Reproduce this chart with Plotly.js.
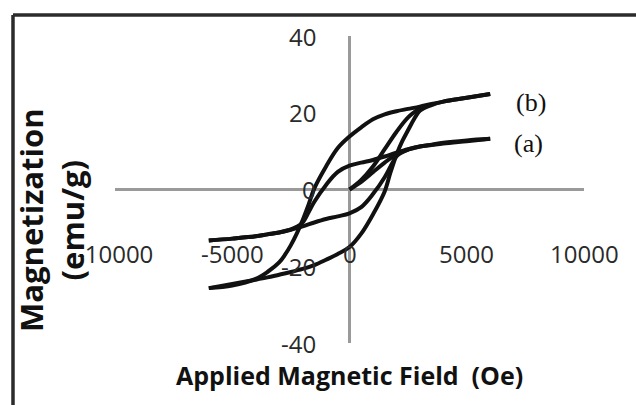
<!DOCTYPE html>
<html>
<head>
<meta charset="utf-8">
<script src="https://cdn.plot.ly/plotly-3.0.1.min.js"></script>
<style>
  html, body { margin: 0; padding: 0; background: #fff; }
  #chart { width: 636px; height: 405px; }
</style>
</head>
<body>
<div id="chart"></div>
<script>
// ---- data ----
const fieldDesc = [6000, 5000, 4000, 3500, 3000, 2500, 2000, 1500, 1000, 500, 0, -500, -1000, -1500, -1750, -2000, -2250, -2500, -2750, -3000, -3500, -4000, -5000, -6000];
const fieldAsc  = [-6000, -5000, -4000, -3500, -3000, -2500, -2000, -1500, -1000, -500, 0, 500, 1000, 1500, 1750, 2000, 2250, 2500, 2750, 3000, 3500, 4000, 5000, 6000];

// sample (b): larger loop
const magBDesc = [24.9, 23.9, 22.9, 22.3, 21.6, 21.0, 20.4, 19.6, 18.3, 16.2, 13.8, 10.8, 6.0, 0.3, -4.0, -8.0, -11.5, -14.5, -17.0, -19.0, -21.5, -23.3, -25.0, -25.7];
const magBAsc  = [-25.7, -24.6, -23.5, -22.9, -22.2, -21.5, -20.7, -19.7, -18.3, -16.8, -15.0, -11.5, -6.5, -0.5, 4.5, 9.0, 12.6, 15.5, 18.3, 20.5, 22.0, 22.9, 23.9, 24.9];
const fieldBInit = [0, 500, 1000, 1500, 2000, 2500, 3000];
const magBInit   = [0, 2.5, 6.0, 10.5, 15.0, 18.8, 21.2];

// sample (a): smaller loop
const magADesc = [13.2, 12.6, 12.0, 11.6, 11.2, 10.5, 9.6, 8.6, 7.7, 7.0, 6.2, 4.6, 1.2, -3.2, -6.0, -8.6, -9.7, -10.4, -10.8, -11.2, -11.7, -12.2, -12.8, -13.3];
const magAAsc  = [-13.3, -12.8, -12.2, -11.7, -11.2, -10.5, -9.6, -8.6, -7.7, -7.0, -6.2, -4.6, -1.2, 3.2, 6.0, 8.6, 9.7, 10.4, 10.8, 11.2, 11.7, 12.2, 12.8, 13.2];
const fieldAInit = [0, 500, 1000, 1500, 2000, 2500];
const magAInit   = [0, 2.0, 4.5, 7.0, 9.2, 10.4];

// axis ticks
const xTicks = [-10000, -5000, 0, 5000, 10000];
const xTickText = ["-10000", "-5000", "0", "5000", "10000"];
const yTicks = [40, 20, 0, -20, -40];
const yTickText = ["40", "20", "0", "-20", "-40"];

const seriesLabels = ["(b)", "(a)"];
const xTitle = "Applied Magnetic Field&nbsp;&nbsp;(Oe)";
const yTitle = "Magnetization<br>(emu/g)";

// ---- drawing ----
const lineStyle = { color: "#111", width: 4, shape: "spline", smoothing: 1 };
function tr(x, y) {
  return { x: x, y: y, type: "scatter", mode: "lines", line: lineStyle, hoverinfo: "skip", showlegend: false };
}
const traces = [
  tr(fieldDesc, magBDesc), tr(fieldAsc, magBAsc), tr(fieldBInit, magBInit),
  tr(fieldDesc, magADesc), tr(fieldAsc, magAAsc), tr(fieldAInit, magAInit)
];

const tickFont = { family: "Open Sans, sans-serif", size: 24, color: "#2a2a2a" };
const annotations = [];
xTicks.forEach((v, i) => annotations.push({
  x: v, y: -16.6, xref: "x", yref: "y", text: xTickText[i], showarrow: false,
  xanchor: "center", yanchor: "middle", font: tickFont
}));
yTicks.forEach((v, i) => annotations.push({
  x: -1330, y: v, xref: "x", yref: "y", text: yTickText[i], showarrow: false,
  xanchor: "right", yanchor: "middle", font: tickFont
}));
const labelPos = [[7750, 22.6], [7650, 11.9]];
seriesLabels.forEach((t, i) => annotations.push({
  x: labelPos[i][0], y: labelPos[i][1], xref: "x", yref: "y", text: t, showarrow: false,
  xanchor: "center", yanchor: "middle",
  font: { family: "Liberation Serif, serif", size: 26, color: "#111" }
}));
// axis titles
annotations.push({
  x: 0.5, y: -0.105, xref: "paper", yref: "paper", text: xTitle, showarrow: false,
  xanchor: "center", yanchor: "middle",
  font: { family: "Open Sans, sans-serif", size: 25, color: "#111", weight: 700 }
});
annotations.push({
  x: -0.135, y: 0.40, xref: "paper", yref: "paper", text: yTitle, showarrow: false,
  textangle: -90, xanchor: "center", yanchor: "middle",
  font: { family: "Open Sans, sans-serif", size: 31, color: "#111", weight: 700 }
});

const layout = {
  width: 636, height: 405,
  margin: { l: 115, r: 52, t: 36, b: 62, pad: 0 },
  paper_bgcolor: "#fff", plot_bgcolor: "#fff",
  showlegend: false,
  xaxis: {
    range: [-10000, 10000], showgrid: false, showticklabels: false, ticks: "",
    showline: false, zeroline: true, zerolinecolor: "#9a9a9a", zerolinewidth: 2.2, fixedrange: true
  },
  yaxis: {
    range: [-40, 40], showgrid: false, showticklabels: false, ticks: "",
    showline: false, zeroline: true, zerolinecolor: "#9a9a9a", zerolinewidth: 3, fixedrange: true
  },
  shapes: [
    { type: "line", xref: "paper", yref: "paper", x0: -0.2175, x1: 1.3, y0: 1.068, y1: 1.068,
      line: { color: "#2b2b2b", width: 3.5 } },
    { type: "line", xref: "paper", yref: "paper", x0: -0.2175, x1: -0.2175, y0: 1.068, y1: -0.4,
      line: { color: "#2b2b2b", width: 3.5 } }
  ],
  annotations: annotations
};

Plotly.newPlot("chart", traces, layout, { displayModeBar: false, staticPlot: true });
</script>
</body>
</html>
